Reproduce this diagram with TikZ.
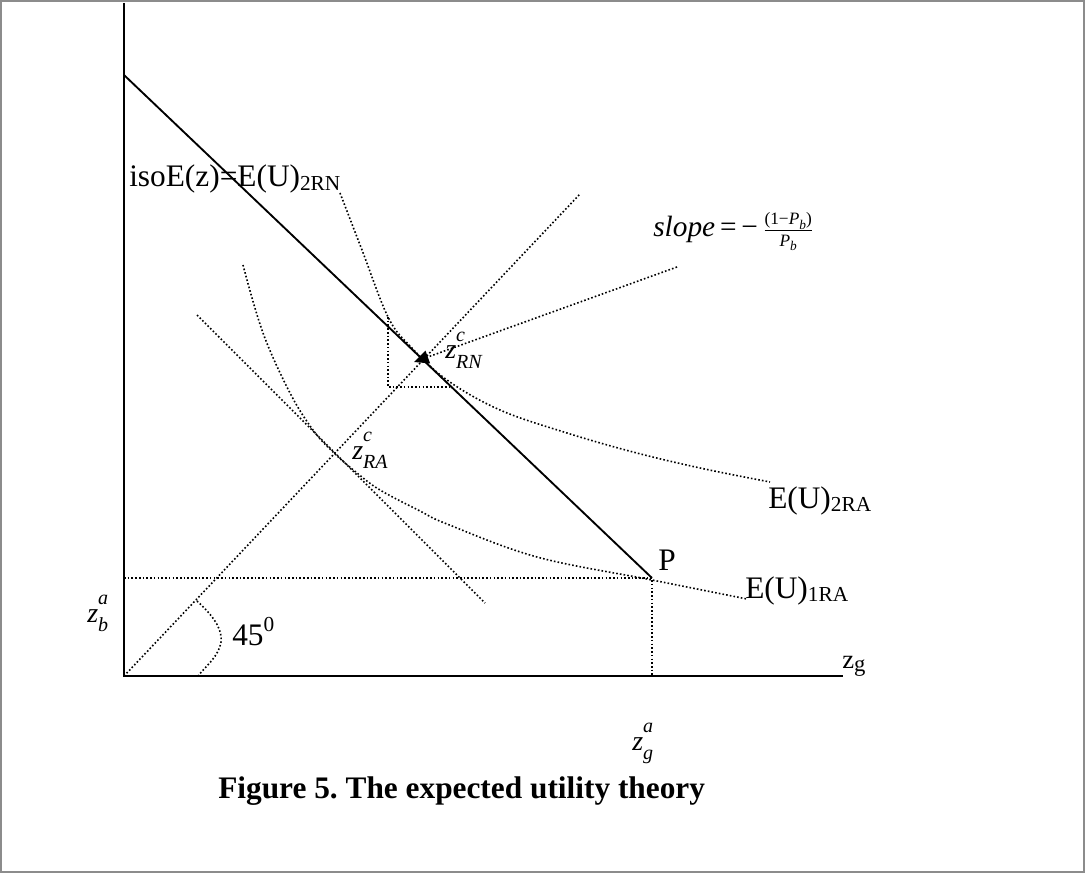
\documentclass[tikz,border=0pt]{standalone}
\usepackage{fontspec}
\setmainfont{Liberation Serif}
\usetikzlibrary{arrows.meta}
\frenchspacing
\newcommand\mysub[1]{\raisebox{-0.12em}{\fontsize{16}{16}\selectfont #1}}
\newcommand\zlab[2]{{\fontsize{21}{22}\selectfont\textit{z}}\rlap{\raisebox{0.55em}{\fontsize{15}{15}\selectfont\itshape #1}}\raisebox{-0.3em}{\fontsize{15}{15}\selectfont\itshape #2}}
\newcommand\fracsub{\raisebox{-0.25em}{\fontsize{10}{10}\selectfont\itshape b}}
\begin{document}
\begin{tikzpicture}[x=0.75pt,y=-0.75pt,
  lab/.style={inner sep=0pt, anchor=base west, font=\fontsize{23.5}{26}\selectfont},
  axisline/.style={line width=1.6pt},
  budget/.style={line width=1.4pt},
  dotline/.style={line width=1.2pt, dash pattern=on 1.2pt off 1.6pt},
  frame/.style={draw={rgb,255:red,140;green,140;blue,140}, line width=0.9pt}]
\useasboundingbox (0,0) rectangle (1085,873);
\draw[frame] (1,1) rectangle (1084,872);
% coordinates
\coordinate (O) at (124,676);
\coordinate (Ytop) at (124,3);
\coordinate (Xend) at (843,676);
\coordinate (B1) at (124,75);
\coordinate (P) at (652,578);
\coordinate (Zb) at (124,578);
\coordinate (Zg) at (652,676);
\coordinate (D2) at (580,194);
\coordinate (ZRN) at (414,362);
\coordinate (SL) at (677,267);
\coordinate (TA1) at (197,315);
\coordinate (TA2) at (485,603);
\coordinate (V1) at (388,317);
\coordinate (V2) at (388,387);
\coordinate (H2) at (451,387);
\coordinate (A1) at (197,601);
\coordinate (A2) at (198,676);
% axes
\draw[axisline] (Ytop) -- (O) -- (Xend);
% budget line
\draw[budget] (B1) -- (P);
% dotted guides
\draw[dotline] (Zb) -- (P) -- (Zg);
\draw[dotline] (O) -- (D2);
\draw[dotline] (TA1) -- (TA2);
\draw[dotline] (V1) -- (V2) -- (H2);
\draw[dotline, -{Triangle[length=11pt,width=10pt]}] (SL) -- (ZRN);
% indifference curves
\draw[dotline] plot[smooth, tension=0.6] coordinates {(340,193) (362,250) (388,317) (410,346) (447,380) (500,410) (567,433) (633,452) (700,468) (770,482)};
\draw[dotline] plot[smooth, tension=0.6] coordinates {(243,265) (263,333) (290,393) (313,430) (333,452) (357,473) (380,490) (420,511) (447,524) (537,557) (652,580) (747,599)};
% 45 degree arc
\draw[dotline] (A1) .. controls (218,620) and (222,632) .. (221,642) .. controls (219,656) and (206,666) .. (A2);
% labels
\node[lab] (l1) at (129,187) {isoE(z)=E(U)\mysub{2RN}};
\node[lab] (l2) at (768,508) {E(U)\mysub{2RA}};
\node[lab] (l3) at (745,598) {E(U)\mysub{1RA}};
\node[lab] (lp) at (658,570) {P};
\node[lab] (l45) at (232,645) {45\raisebox{0.42em}{\fontsize{16}{16}\selectfont 0}};
\node[lab, font=\fontsize{20}{22}\selectfont] (lzg) at (842,668) {z\raisebox{-0.12em}{\fontsize{17}{17}\selectfont g}};
\node[lab] (lzb) at (87,622) {\zlab{a}{b}};
\node[lab] (lzga) at (632,750) {\zlab{a}{g}};
\node[lab] (lzra) at (352,459) {\zlab{c}{RA}};
\node[lab] (lzrn) at (445,359) {\zlab{c}{RN}};
\node[lab, font=\fontsize{22}{24}\selectfont] (ls) at (653,237) {\textit{slope}\,=\,−\,${\hbox{\fontsize{13}{13}\selectfont(1−\textit{P}\fracsub)}\over\hbox{\fontsize{13}{13}\selectfont\textit{P}\fracsub}}$};
\node[lab, font=\fontsize{23.5}{26}\bfseries\selectfont] (cap) at (218,798) {Figure 5. The expected utility theory};
\end{tikzpicture}
\end{document}
